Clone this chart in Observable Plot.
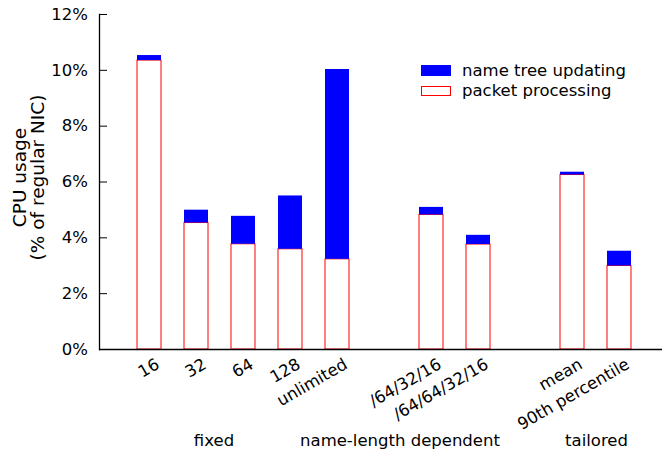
<!DOCTYPE html>
<html><head><meta charset="utf-8">
<script src="https://cdn.jsdelivr.net/npm/d3@7"></script>
<script src="https://cdn.jsdelivr.net/npm/@observablehq/plot@0.6"></script>
<style>
html,body{margin:0;padding:0;background:#fff;}
#wrap{position:relative;width:662px;height:456px;font-family:"DejaVu Sans",sans-serif;font-size:16.5px;color:#000;}
.ov{position:absolute;white-space:nowrap;line-height:16.5px;}
.sw{position:absolute;box-sizing:border-box;}
</style></head><body><div id="wrap"></div>
<script>
const categories = ["16", "32", "64", "128", "unlimited", "/64/32/16", "/64/64/32/16", "mean", "90th percentile"];
const groupOfCategory = ["fixed", "fixed", "fixed", "fixed", "fixed", "name-length dependent", "name-length dependent", "tailored", "tailored"];
const groups = ["fixed", "name-length dependent", "tailored"];
const packetProcessing = [10.35, 4.53, 3.77, 3.59, 3.23, 4.82, 3.76, 6.25, 2.99];
const nameTreeUpdating = [0.18, 0.46, 1.00, 1.91, 6.80, 0.27, 0.33, 0.10, 0.53];
const yTicks = [0, 2, 4, 6, 8, 10, 12];
const seriesNames = ["name tree updating", "packet processing"];
const yLabel = ["CPU usage", "(% of regular NIC)"];

const domain = [];
groups.forEach((g, i) => {
  if (i > 0) domain.push(`gap${i}`);
  categories.forEach((c, j) => { if (groupOfCategory[j] === g) domain.push(c); });
});
const rows = categories.map((c, i) => ({
  category: c,
  packet: packetProcessing[i],
  total: packetProcessing[i] + nameTreeUpdating[i]
}));

const FS = 16.5;
const chart = Plot.plot({
  width: 662, height: 456,
  marginLeft: 99, marginRight: 0, marginTop: 14, marginBottom: 107,
  style: {fontFamily: '"DejaVu Sans", sans-serif', fontSize: FS + "px", color: "#000", background: "white", overflow: "visible"},
  x: {type: "band", domain, range: [135, 632.3], paddingInner: 0.493, paddingOuter: 0, axis: null},
  y: {domain: [0, 12], axis: null},
  marks: [
    Plot.barY(rows, {x: "category", y1: 0, y2: "packet", fill: "white", stroke: "#ff0000", strokeWidth: 1}),
    Plot.barY(rows, {x: "category", y1: "packet", y2: "total", fill: "#0000ff"}),
    Plot.ruleY([0], {stroke: "#000", strokeWidth: 1.3}),
    Plot.frame({anchor: "left", stroke: "#000", strokeWidth: 1.3}),
    Plot.axisY({ticks: yTicks, tickSize: 8, dx: 8, tickFormat: () => "", label: null}),
    Plot.axisY({ticks: yTicks, tickSize: 0, tickPadding: 11.5, tickFormat: d => `${d}%`, label: null, fill: "#000", fontSize: FS}),
    Plot.text(categories, {x: d => d, frameAnchor: "bottom", rotate: -30, textAnchor: "end", lineAnchor: "bottom", dx: 11, dy: 18, fill: "#000", fontSize: FS}),
    Plot.text([yLabel.join("\n")], {frameAnchor: "left", rotate: -90, textAnchor: "middle", lineAnchor: "bottom", lineHeight: 0.973, dx: -55.5, dy: -4.5, fill: "#000", fontSize: 18.5})
  ]
});
const wrap = document.getElementById("wrap");
wrap.appendChild(chart);

// group labels below the axis
const groupCenters = [214, 400, 596.5];
groups.forEach((g, i) => {
  const s = document.createElement("div");
  s.className = "ov";
  s.textContent = g;
  s.style.left = groupCenters[i] + "px";
  s.style.top = "433px";
  s.style.transform = "translateX(-50%)";
  wrap.appendChild(s);
});

// legend
const swatchStyles = [
  {background: "#0000ff", border: "none"},
  {background: "#fff", border: "1px solid #ff0000"}
];
seriesNames.forEach((name, i) => {
  const sw = document.createElement("div");
  sw.className = "sw";
  sw.style.left = "421px";
  sw.style.top = (65 + 20.5 * i) + "px";
  sw.style.width = "30px";
  sw.style.height = "10.5px";
  sw.style.background = swatchStyles[i].background;
  sw.style.border = swatchStyles[i].border;
  wrap.appendChild(sw);
  const t = document.createElement("div");
  t.className = "ov";
  t.textContent = name;
  t.style.left = "462px";
  t.style.top = (62.5 + 20.5 * i) + "px";
  wrap.appendChild(t);
});
</script>
</body></html>
